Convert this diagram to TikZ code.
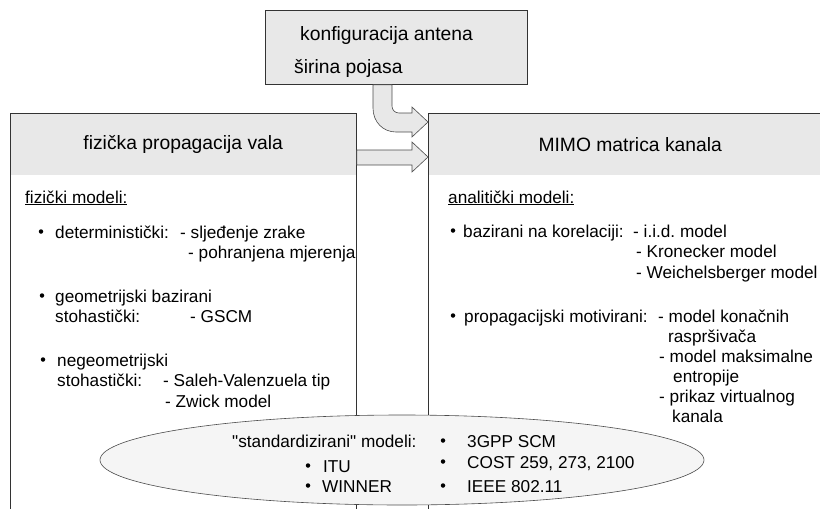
\documentclass[tikz,border=0pt]{standalone}
\usepackage{fontspec}
\setmainfont{Liberation Sans}
\newfontfamily\qtfont{Liberation Sans}
\usetikzlibrary{shapes.geometric}

\newcommand\hdfont{\fontsize{19.3}{22}\selectfont}

\tikzset{
  box/.style={draw=black!80, line width=0.8pt, inner sep=0pt, anchor=north west},
  head/.style={fill=gray!18, inner sep=0pt, anchor=north west, font=\hdfont},
  blockarrow/.style={draw=gray!60!black, fill=gray!18, line width=0.6pt, line join=miter},
  txt/.style={anchor=base west, inner sep=0pt, font=\fontsize{17.2}{21}\selectfont},
  dot/.style={circle, fill=black, inner sep=0pt, minimum size=4.5pt},
}

\begin{document}
\frenchspacing
\begin{tikzpicture}[x=1pt,y=-1pt]
\useasboundingbox (0,0) rectangle (820,509);
\clip (0,0) rectangle (820,509);

% gornji okvir
\node[box, fill=gray!18, minimum width=262pt, minimum height=74pt] (konf) at (265,10) {};
\node[txt, font=\hdfont] (konf1) at (300,40) {konfiguracija antena};
\node[txt, font=\hdfont] (konf2) at (294,73) {širina pojasa};

% lijevi i desni okvir
\node[head, minimum width=346pt, minimum height=62pt] (fizhead) at (10,113) {fizička propagacija vala};
\node[box, minimum width=346pt, minimum height=420pt] (fiz) at (10,113) {};
\node[head, minimum width=404pt, minimum height=62pt] (mimohead) at (428,113) {MIMO matrica kanala};
\node[box, minimum width=404pt, minimum height=420pt] (mimo) at (428,113) {};

% strelice
\draw[blockarrow] (konf.south -| 373,0) -- (373,108)
  .. controls (373,122) and (383,132) .. (396,132) -- (412,132) -- (412,137)
  -- (mimo.west |- 0,122) -- (412,107) -- (412,113) -- (399,113)
  .. controls (395,113) and (392,110) .. (392,106) -- (konf.south -| 392,0) -- cycle;
\draw[blockarrow] (fiz.east |- 0,150) -- (412,150) -- (412,142) -- (mimo.west |- 0,157)
  -- (412,172) -- (412,165) -- (fiz.east |- 0,165) -- cycle;

% fizicki modeli
\node[txt] (fizmod) at (25,203) {\underline{fizički modeli:}};
\foreach \x/\y/\t [count=\i] in {
    55/238/{deterministički:}, 180/238/{- sljeđenje zrake}, 188/258/{- pohranjena mjerenja},
    55/302/{geometrijski bazirani}, 55/322/{stohastički:}, 190/322/{- GSCM},
    57/366/{negeometrijski}, 57/386/{stohastički:}, 163/386/{- Saleh-Valenzuela tip},
    165/407/{- Zwick model}}{
  \node[txt] (fl\i) at (\x,\y) {\t};
}
\foreach \x/\y [count=\i] in {41/231.5, 42/295.5, 43/359.5}{
  \node[dot] (fb\i) at (\x,\y) {};
}

% analiticki modeli
\node[txt] (anmod) at (448,203) {\underline{analitički modeli:}};
\foreach \x/\y/\t [count=\i] in {
    463/237/{bazirani na korelaciji:}, 633/237/{- i.i.d. model}, 636/257/{- Kronecker model},
    636/278/{- Weichelsberger model},
    464/322/{propagacijski motivirani:}, 658/322/{- model konačnih}, 668/342/{raspršivača},
    659/362/{- model maksimalne}, 673/382/{entropije}, 659/402/{- prikaz virtualnog},
    672/422/{kanala}}{
  \node[txt] (al\i) at (\x,\y) {\t};
}
\foreach \x/\y [count=\i] in {453/230.5, 453/315.5}{
  \node[dot] (ab\i) at (\x,\y) {};
}

% standardizirani modeli
\node[ellipse, draw=gray!60!black, fill=gray!8, line width=0.6pt, minimum width=604pt,
  minimum height=90pt, inner sep=0pt] (std) at (402,460) {};
\foreach \x/\y/\t [count=\i] in {
    232/447/{\qtfont"standardizirani" modeli:}, 323/472/{ITU}, 322/492/{WINNER},
    467/447/{3GPP SCM}, 467/468/{COST 259, 273, 2100}, 467/492/{IEEE 802.11}}{
  \node[txt] (sl\i) at (\x,\y) {\t};
}
\foreach \x/\y [count=\i] in {308/465.5, 308/485.5, 443/440.5, 443/461.5, 443/485.5}{
  \node[dot] (sb\i) at (\x,\y) {};
}
\end{tikzpicture}
\end{document}
